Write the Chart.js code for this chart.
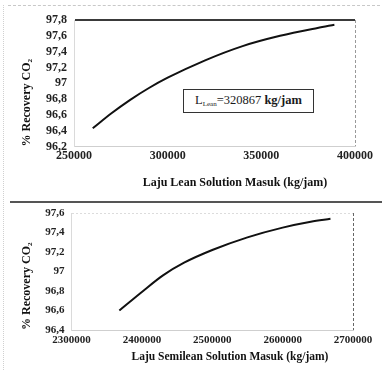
<!DOCTYPE html>
<html>
<head>
<meta charset="utf-8">
<script src="https://cdn.jsdelivr.net/npm/chart.js@4.4.0/dist/chart.umd.min.js"></script>
<style>
  html, body { margin: 0; padding: 0; background: #fff; }
  #wrap { position: relative; width: 382px; height: 370px; overflow: hidden; }
  .box { position: absolute; left: 0; width: 382px; }
  #top { top: 0; height: 190px; }
  #bot { top: 190px; height: 180px; }
  #frameTop { position: absolute; left: 8px; right: 2px; top: 5px; border-top: 1px dashed #c8c8c8; }
  #frameLeft { position: absolute; left: 3px; top: 5px; bottom: 0; border-left: 1px dotted #d0d0d0; }
  #sep { position: absolute; left: 10px; right: 0; top: 201px; border-top: 2px solid #555; }
  #note {
    position: absolute; left: 183px; top: 89px; width: 131px; height: 24px;
    border: 1.5px solid #333; box-sizing: border-box; background: #fff;
    font-family: "Liberation Serif", serif; font-size: 12.5px; color: #1a1a1a;
    text-align: center; line-height: 21px;
  }
  #note sub { font-size: 7px; vertical-align: -2px; }
  .xt {
    position: absolute; font-family: "Liberation Serif", serif; font-weight: bold;
    font-size: 12px; color: #111; white-space: nowrap; transform: translateX(-50%);
  }
  #xtTop { left: 235px; top: 175px; }
  #xtBot { left: 230px; top: 350px; font-size: 11.5px; }
</style>
</head>
<body>
<div id="wrap">
  <div class="box" id="top"><canvas id="chartTop" width="382" height="190"></canvas></div>
  <div class="box" id="bot"><canvas id="chartBot" width="382" height="180"></canvas></div>
  <div id="frameTop"></div>
  <div id="frameLeft"></div>
  <div id="sep"></div>
  <div id="note">L<sub>Lean</sub>=320867 <b>kg/jam</b></div>
  <div class="xt" id="xtTop">Laju Lean Solution Masuk (kg/jam)</div>
  <div class="xt" id="xtBot">Laju Semilean Solution Masuk (kg/jam)</div>
</div>
<script>
// grafik atas: laju lean solution
const leanFlow = [260000, 270000, 280000, 290000, 300000, 320000, 340000, 360000, 380000, 389000];
const leanRecovery = [96.43, 96.62, 96.79, 96.94, 97.07, 97.29, 97.47, 97.60, 97.70, 97.74];
const leanXTicks = [250000, 300000, 350000, 400000];
const leanYTicks = [96.2, 96.4, 96.6, 96.8, 97, 97.2, 97.4, 97.6, 97.8];

// grafik bawah: laju semilean solution
const semiFlow = [2368000, 2400000, 2430000, 2460000, 2500000, 2550000, 2600000, 2640000, 2668000];
const semiRecovery = [96.60, 96.79, 96.96, 97.09, 97.22, 97.35, 97.45, 97.51, 97.54];
const semiXTicks = [2300000, 2400000, 2500000, 2600000, 2700000];
const semiYTicks = [96.4, 96.6, 96.8, 97, 97.2, 97.4, 97.6];

const serif = "'Liberation Serif', 'Times New Roman', serif";

function fmtKoma(v) {
  return Number.isInteger(v) ? String(v) : v.toFixed(1).replace(".", ",");
}

function buatGrafik(id, xs, ys, xTicks, yTicks, opt) {
  const ctx = document.getElementById(id).getContext("2d");
  const xMin = xTicks[0], xMax = xTicks[xTicks.length - 1];
  const yMin = yTicks[0], yMax = yTicks[yTicks.length - 1];
  return new Chart(ctx, {
    type: "line",
    data: {
      datasets: [{
        data: xs.map((x, i) => ({ x: x, y: ys[i] })),
        borderColor: "#111",
        borderWidth: 2,
        pointRadius: 0,
        cubicInterpolationMode: "monotone",
        fill: false
      }]
    },
    options: {
      responsive: false,
      animation: false,
      layout: { padding: { top: opt.padTop, right: opt.padRight, bottom: 0, left: 0 } },
      plugins: { legend: { display: false }, tooltip: { enabled: false } },
      scales: {
        x: {
          type: "linear",
          min: xMin,
          max: xMax,
          afterBuildTicks: s => { s.ticks = xTicks.map(v => ({ value: v })); },
          afterFit: s => { s.height = opt.xHeight; },
          ticks: {
            color: "#222",
            padding: opt.xTickPad,
            maxRotation: 0,
            autoSkip: false,
            font: { family: serif, size: opt.tickSize, weight: "bold" },
            callback: v => String(v)
          },
          grid: {
            drawTicks: false,
            color: c => (c.tick && c.tick.value === xMax ? opt.rightColor : "rgba(0,0,0,0)"),
            lineWidth: 1
          },
          border: { display: true, color: "#cfcfcf", dash: [3, 2] },
          title: { display: false }
        },
        y: {
          min: yMin,
          max: yMax,
          afterBuildTicks: s => { s.ticks = yTicks.map(v => ({ value: v })); },
          afterFit: s => { s.width = opt.yWidth; },
          ticks: {
            color: "#222",
            padding: 7,
            autoSkip: false,
            font: { family: serif, size: opt.tickSize, weight: "bold" },
            callback: v => fmtKoma(v)
          },
          grid: {
            drawTicks: false,
            borderDash: opt.topDash,
            color: c => (c.tick && c.tick.value === yMax ? opt.topColor : "rgba(0,0,0,0)"),
            lineWidth: c => (c.tick && c.tick.value === yMax ? opt.topWidth : 1)
          },
          border: { display: true, color: "#dadada", dash: opt.topDash },
          title: {
            display: true,
            text: "% Recovery CO₂",
            align: "start",
            color: "#111",
            padding: { top: 20, bottom: 0 },
            font: { family: serif, size: 12, weight: "bold" }
          }
        }
      }
    }
  });
}

document.addEventListener("DOMContentLoaded", () => {
  buatGrafik("chartTop", leanFlow, leanRecovery, leanXTicks, leanYTicks, {
    padTop: 20, padRight: 27, xHeight: 43.5, yWidth: 74, xTickPad: 2,
    tickSize: 12, topColor: "#3a3a3a", topWidth: 2, topDash: [], rightColor: "#999"
  });
  buatGrafik("chartBot", semiFlow, semiRecovery, semiXTicks, semiYTicks, {
    padTop: 23, padRight: 29, xHeight: 40, yWidth: 71.5, xTickPad: 4,
    tickSize: 11, topColor: "#dcdcdc", topWidth: 1, topDash: [2, 2], rightColor: "#666"
  });
});
</script>
</body>
</html>
